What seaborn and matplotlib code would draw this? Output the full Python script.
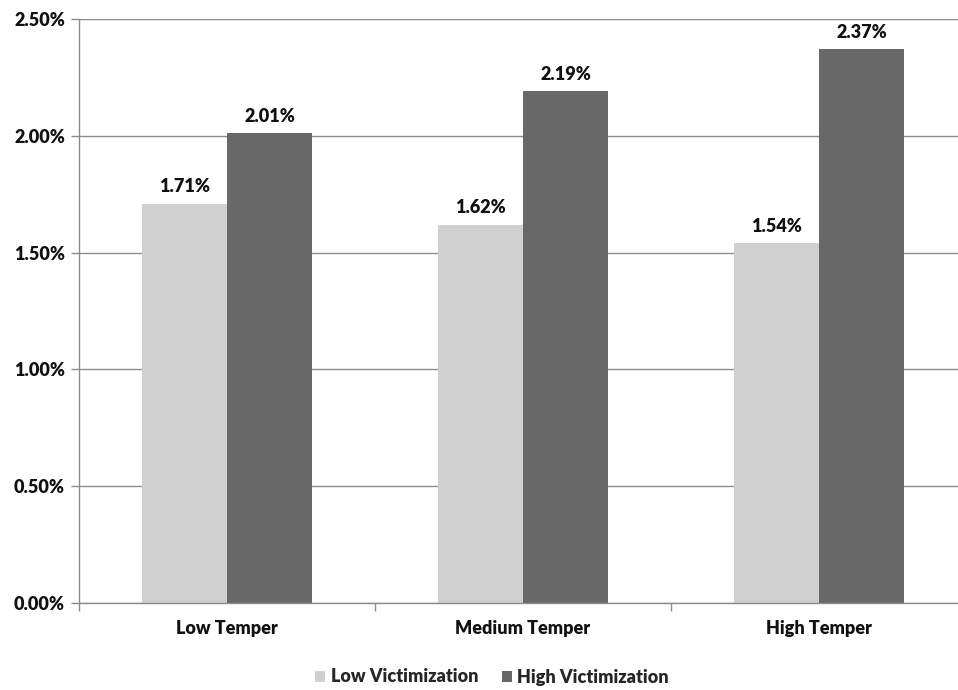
import pandas as pd
import matplotlib.pyplot as plt
import seaborn as sns
from matplotlib.ticker import FuncFormatter, FixedLocator

categories = ['Low Temper', 'Medium Temper', 'High Temper']
groups = ['Low Victimization', 'High Victimization']
low_vict = [1.71, 1.62, 1.54]
high_vict = [2.01, 2.19, 2.37]
colors = ['#d0d0d0', '#686868']

df = pd.DataFrame({
    'temper': categories * 2,
    'group': [groups[0]] * 3 + [groups[1]] * 3,
    'value': low_vict + high_vict,
})

sns.set_theme(style='white')
plt.rcParams['font.family'] = ['Lato', 'DejaVu Sans']
plt.rcParams['font.weight'] = 'heavy'

fig = plt.figure(figsize=(9.58, 6.9), dpi=100)
ax = fig.add_axes([79 / 958, 87 / 690, 888 / 958, 584 / 690])

sns.barplot(data=df, x='temper', y='value', hue='group', palette=colors,
            width=0.575, saturation=1, linewidth=0, ax=ax, legend=True)

for c in ax.containers:
    ax.bar_label(c, labels=[f'{v:.2f}%' for v in c.datavalues], padding=6,
                 fontsize=13, fontweight='heavy', color='#111111')

ax.set_ylim(0, 2.5)
ax.set_yticks([0, 0.5, 1.0, 1.5, 2.0, 2.5])
ax.yaxis.set_major_formatter(FuncFormatter(lambda v, p: f'{v:.2f}%'))
ax.yaxis.grid(True, color='#8c8c8c', linewidth=1)
ax.set_axisbelow(True)
ax.set_xlim(-0.5, 2.5)
ax.xaxis.set_minor_locator(FixedLocator([-0.5, 0.5, 1.5, 2.5]))
ax.tick_params(axis='x', which='major', length=0, pad=12, labelsize=13, labelcolor='#111111')
ax.tick_params(axis='x', which='minor', length=6, color='#8c8c8c', width=1, bottom=True)
ax.tick_params(axis='y', length=6, color='#8c8c8c', width=1, left=True, labelsize=13, labelcolor='#111111', pad=4)
ax.set_xlabel('')
ax.set_ylabel('')
for lbl in ax.get_xticklabels() + ax.get_yticklabels():
    lbl.set_fontweight('heavy')

for s in ['top', 'right']:
    ax.spines[s].set_visible(False)
for s in ['left', 'bottom']:
    ax.spines[s].set_color('#8c8c8c')
    ax.spines[s].set_linewidth(1)

leg = ax.legend(loc='center', bbox_to_anchor=(492 / 958, 13 / 690), bbox_transform=fig.transFigure,
                ncol=2, frameon=False, fontsize=13, handlelength=0.55, handleheight=0.55,
                handletextpad=0.3, columnspacing=1.3)
for t in leg.get_texts():
    t.set_fontweight('heavy')

fig.savefig('out.png', dpi=100)
